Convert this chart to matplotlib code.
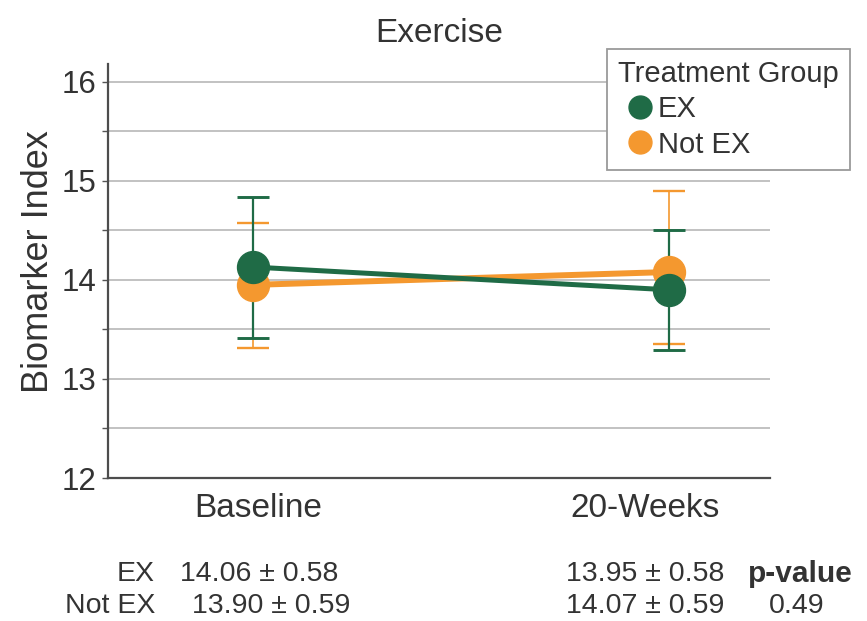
import numpy as np
import matplotlib.pyplot as plt
from matplotlib.lines import Line2D

plt.rcParams['font.family'] = ['Liberation Sans', 'DejaVu Sans']

timepoints = ["Baseline", "20-Weeks"]
groups = ["EX", "Not EX"]

# plotted means and error bar ends
ex_mean = [14.13, 13.90]
ex_upper = [14.84, 14.50]
ex_lower = [13.41, 13.29]
notex_mean = [13.95, 14.08]
notex_upper = [14.57, 14.90]
notex_lower = [13.31, 13.35]

# summary table under the plot
ex_stats = ["14.06 ± 0.58", "13.95 ± 0.58"]
notex_stats = ["13.90 ± 0.59", "14.07 ± 0.59"]
p_value = "0.49"

green = "#1f6b46"
orange = "#f4982f"
W, H = 867, 621

fig = plt.figure(figsize=(W / 100, H / 100), dpi=100)
ax = fig.add_axes([108 / W, 1 - 478 / H, 662 / W, 414 / H])

x = np.arange(len(timepoints))


def draw_group(mean, upper, lower, color, lw, elw, z):
    mean = np.array(mean)
    yerr = [mean - np.array(lower), np.array(upper) - mean]
    ax.errorbar(x, mean, yerr=yerr, fmt="none", ecolor=color, elinewidth=elw,
                capsize=11.5, capthick=elw + 0.5, zorder=z)
    ax.plot(x, mean, color=color, lw=lw, marker="o", ms=23, zorder=z + 2,
            solid_capstyle="butt")


draw_group(notex_mean, notex_upper, notex_lower, orange, 4.3, 1.2, 3)
draw_group(ex_mean, ex_upper, ex_lower, green, 3.6, 1.6, 4)

ax.set_xlim(-0.349, 1.243)
ax.set_ylim(12, 16.18)
ax.set_yticks([12, 13, 14, 15, 16])
ax.set_yticks(np.arange(12.5, 16, 1.0), minor=True)
ax.yaxis.grid(True, which="both", color="#b8b8b8", lw=1.2, zorder=0)
ax.set_axisbelow(True)
ax.tick_params(axis="y", which="both", length=4, width=1, color="#555555",
               labelsize=22.5, pad=4.5, labelcolor="#333333")
ax.set_xticks([0.012, 0.942])
ax.set_xticklabels(timepoints)
ax.tick_params(axis="x", length=0, labelsize=24, pad=11, labelcolor="#333333")
for s in ["top", "right"]:
    ax.spines[s].set_visible(False)
for s in ["left", "bottom"]:
    ax.spines[s].set_color("#4d4d4d")
    ax.spines[s].set_linewidth(1.6)

ax.set_ylabel("Biomarker Index", fontsize=26, color="#333333")
ax.yaxis.set_label_coords(-0.078, 0.522)
ax.set_title("Exercise", fontsize=24, color="#333333", pad=16)

handles = [Line2D([], [], ls="none", marker="o", ms=16.5, color=c) for c in (green, orange)]
leg = fig.legend(handles, groups, title="Treatment Group", loc="upper left",
                 bbox_to_anchor=(607 / W, 1 - 49 / H), borderaxespad=0,
                 fontsize=21, title_fontsize=21,
                 fancybox=False, framealpha=1, edgecolor="#9a9a9a", handlelength=1.5,
                 handletextpad=-0.14, labelspacing=0.25, borderpad=0.38, alignment="left")
leg.get_frame().set_linewidth(1.3)
for t in leg.get_texts():
    t.set_color("#333333")
leg.get_title().set_color("#333333")


def ft(px, py, s, size=20.5, **kw):
    fig.text(px / W, 1 - py / H, s, fontsize=size, color="#333333", va="center", **kw)


ft(155, 574, groups[0], ha="right")
ft(155, 606, groups[1], ha="right")
ft(180, 574, ex_stats[0], ha="left")
ft(192, 606, notex_stats[0], ha="left")
ft(724, 574, ex_stats[1], ha="right")
ft(724, 606, notex_stats[1], ha="right")
ft(800, 574, "p-value", size=21.5, ha="center", fontweight="bold")
ft(797, 606, p_value, ha="center")

fig.savefig("out.png", dpi=100)
